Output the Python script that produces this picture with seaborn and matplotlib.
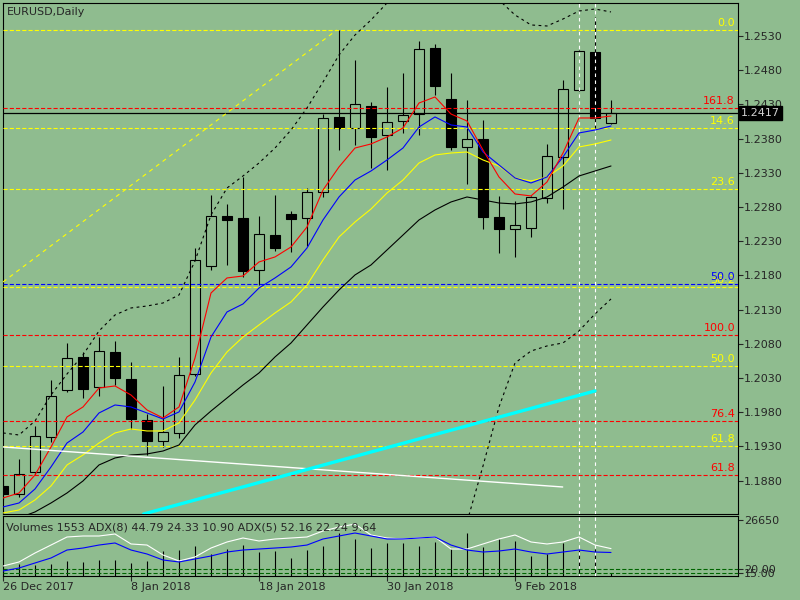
import matplotlib
matplotlib.use("Agg")
import matplotlib.pyplot as plt
import numpy as np
import seaborn as sns

# EURUSD daily candles, 26 Dec 2017 .. 19 Feb 2018
opens = [1.1872, 1.1860, 1.1893, 1.1944, 1.2012, 1.2061, 1.2017, 1.2068, 1.2029, 1.1969,
         1.1938, 1.1950, 1.2036, 1.2194, 1.2267, 1.2264, 1.2188, 1.2239, 1.2270, 1.2264,
         1.2302, 1.2412, 1.2395, 1.2428, 1.2385, 1.2406, 1.2416, 1.2512, 1.2438, 1.2368,
         1.2379, 1.2265, 1.2248, 1.2249, 1.2293, 1.2353, 1.2451, 1.2507, 1.2403]
highs = [1.1881, 1.1912, 1.1960, 1.2027, 1.2081, 1.2068, 1.2090, 1.2084, 1.2053, 1.1977,
         1.2018, 1.2061, 1.2220, 1.2298, 1.2284, 1.2324, 1.2267, 1.2298, 1.2274, 1.2308,
         1.2416, 1.2539, 1.2495, 1.2434, 1.2455, 1.2476, 1.2523, 1.2518, 1.2476, 1.2436,
         1.2407, 1.2296, 1.2289, 1.2296, 1.2372, 1.2466, 1.2509, 1.2558, 1.2436]
lows = [1.1852, 1.1856, 1.1888, 1.1936, 1.2010, 1.2001, 1.2004, 1.2020, 1.1955, 1.1917,
        1.1929, 1.1942, 1.2033, 1.2188, 1.2195, 1.2178, 1.2166, 1.2216, 1.2214, 1.2223,
        1.2295, 1.2363, 1.2371, 1.2337, 1.2334, 1.2388, 1.2385, 1.2444, 1.2363, 1.2314,
        1.2248, 1.2213, 1.2207, 1.2236, 1.2286, 1.2277, 1.2450, 1.2395, 1.2402]
closes = [1.1860, 1.1890, 1.1945, 1.2004, 1.2059, 1.2014, 1.2069, 1.2030, 1.1970, 1.1938,
          1.1951, 1.2034, 1.2203, 1.2267, 1.2261, 1.2186, 1.2240, 1.2220, 1.2262, 1.2302,
          1.2410, 1.2395, 1.2431, 1.2382, 1.2404, 1.2415, 1.2511, 1.2457, 1.2368, 1.2379,
          1.2265, 1.2248, 1.2254, 1.2295, 1.2355, 1.2453, 1.2508, 1.2410, 1.2417]
volumes = [4760, 5710, 5240, 5710, 7140, 6660, 7620, 7620, 6190, 7140,
           11900, 12380, 14280, 10470, 12850, 14760, 11420, 11900, 8570, 12380,
           14280, 20470, 17610, 13330, 15710, 15710, 14280, 16180, 12850, 20470,
           13800, 17610, 16660, 9520, 10470, 15710, 12380, 12850, 1553]

# moving averages as drawn on the chart
ma_red = [1.18545, 1.18618, 1.18882, 1.19291, 1.19730, 1.19876, 1.20153, 1.20183, 1.20051, 1.19832,
          1.19715, 1.19876, 1.20592, 1.21542, 1.21762, 1.21791, 1.21996, 1.22069, 1.22215, 1.22507,
          1.23048, 1.23385, 1.23662, 1.23721, 1.23823, 1.23955, 1.24320, 1.24408, 1.24159, 1.24057,
          1.23633, 1.23238, 1.22990, 1.22961, 1.23165, 1.23589, 1.24101, 1.24101, 1.24130]
ma_blue = [1.18414, 1.18472, 1.18677, 1.18999, 1.19349, 1.19510, 1.19788, 1.19905, 1.19876, 1.19788,
           1.19700, 1.19803, 1.20241, 1.20899, 1.21265, 1.21382, 1.21615, 1.21762, 1.21923, 1.22200,
           1.22610, 1.22946, 1.23194, 1.23326, 1.23487, 1.23662, 1.23969, 1.24116, 1.23999, 1.23969,
           1.23604, 1.23414, 1.23224, 1.23151, 1.23238, 1.23531, 1.23882, 1.23925, 1.23984]
ma_yellow = [1.18326, 1.18370, 1.18516, 1.18721, 1.19028, 1.19174, 1.19349, 1.19496, 1.19554, 1.19525,
             1.19525, 1.19642, 1.19978, 1.20373, 1.20680, 1.20899, 1.21075, 1.21250, 1.21411, 1.21659,
             1.22025, 1.22361, 1.22580, 1.22770, 1.23004, 1.23194, 1.23443, 1.23560, 1.23589, 1.23604,
             1.23487, 1.23399, 1.23224, 1.23180, 1.23238, 1.23399, 1.23677, 1.23721, 1.23779]
ma_black = [1.18209, 1.18253, 1.18341, 1.18472, 1.18618, 1.18794, 1.19028, 1.19130, 1.19174, 1.19189,
            1.19232, 1.19320, 1.19613, 1.19817, 1.20007, 1.20197, 1.20373, 1.20607, 1.20811, 1.21075,
            1.21338, 1.21586, 1.21806, 1.21952, 1.22171, 1.22390, 1.22610, 1.22756, 1.22873, 1.22946,
            1.22902, 1.22858, 1.22844, 1.22873, 1.22946, 1.23092, 1.23253, 1.23326, 1.23399]
band_upper = [1.19496, 1.19466, 1.19671, 1.20051, 1.20358, 1.20636, 1.20987, 1.21221, 1.21323, 1.21352,
              1.21396, 1.21513, 1.22010, 1.22683, 1.23077, 1.23253, 1.23443, 1.23662, 1.23925, 1.24247,
              1.24627, 1.25022, 1.25314, 1.25534, 1.25782, 1.25972, 1.26118, 1.26192, 1.26192, 1.26118,
              1.26001, 1.25826, 1.25607, 1.25461, 1.25446, 1.25548, 1.25665, 1.25694, 1.25651]
band_lower_start = 28
band_lower = [1.16970, 1.18194, 1.19013, 1.19876, 1.20519, 1.20694, 1.20768, 1.20812, 1.20987,
              1.21236, 1.21455]

# ADX lines in the lower window
adx_white = [19.0, 26.7, 43.8, 59.0, 74.3, 76.2, 76.2, 80.0, 61.0, 59.0,
             40.0, 28.6, 36.2, 53.3, 64.8, 72.4, 66.7, 70.5, 72.4, 74.3,
             85.7, 93.3, 99.0, 78.1, 72.4, 70.5, 72.4, 74.3, 51.4, 51.4,
             61.0, 70.5, 78.1, 64.8, 61.0, 64.8, 74.3, 59.0, 52.2]
adx_blue = [9.5, 15.2, 24.8, 34.3, 49.5, 53.3, 59.0, 62.9, 49.5, 41.9,
            30.5, 26.7, 32.4, 38.1, 45.7, 49.5, 51.4, 53.3, 55.2, 59.0,
            70.5, 76.2, 81.9, 76.2, 70.5, 70.5, 72.4, 74.3, 59.0, 49.5,
            45.7, 47.6, 51.4, 45.7, 41.9, 45.7, 49.5, 45.7, 44.8]
adx_levels = [13.3, 5.7]
adx_level_labels = ["20.00", "15.00"]

# fibonacci levels
fib_prices = [1.25387, 1.24247, 1.23955, 1.23063, 1.21630, 1.21674, 1.20928, 1.20475, 1.19671, 1.19306, 1.18882]
fib_labels = ["0.0", "161.8", "14.6", "23.6", "38.2", "50.0", "100.0", "50.0", "76.4", "61.8", "61.8"]
fib_colors = ["#FFFF00", "#FF0000", "#FFFF00", "#FFFF00", "#FFFF00", "#0000FF", "#FF0000", "#FFFF00",
              "#FF0000", "#FFFF00", "#FF0000"]

# trend lines (bar index, price)
trend_yellow = ([0.0, 20.86], [1.21703, 1.25387])
trend_white = ([0.0, 34.98], [1.19291, 1.18706])
trend_cyan = ([8.79, 37.0], [1.18311, 1.20110])
vlines_idx = [36, 37]

last_price = 1.2417
price_ticks = [1.2530, 1.2480, 1.2430, 1.2380, 1.2330, 1.2280, 1.2230, 1.2180,
               1.2130, 1.2080, 1.2030, 1.1980, 1.1930, 1.1880]
date_idx = [0, 8, 16, 24, 32]
date_labels = ["26 Dec 2017", "8 Jan 2018", "18 Jan 2018", "30 Jan 2018", "9 Feb 2018"]

bg = "#8FBC8F"
sns.set_style("white", {"axes.facecolor": bg, "figure.facecolor": bg, "axes.edgecolor": "black"})
plt.rcParams["font.family"] = ["DejaVu Sans"]
plt.rcParams["lines.scale_dashes"] = False
plt.rcParams["font.size"] = 8

fig = plt.figure(figsize=(8, 6), dpi=100)
ax = fig.add_axes([3 / 800, 1 - 514 / 600, 735 / 800, 511 / 600])
sub = fig.add_axes([3 / 800, 1 - 576 / 600, 735 / 800, 60 / 600])
adx_ax = fig.add_axes([3 / 800, 1 - 576 / 600, 735 / 800, 60 / 600], frameon=False)

xmax = 735 / 16
idx = np.arange(len(closes))
o = np.array(opens)
c = np.array(closes)
up = c >= o

# candles
ax.vlines(idx, lows, highs, color="black", lw=0.8, zorder=2)
ax.bar(idx, np.abs(c - o), bottom=np.minimum(o, c), width=0.6,
       color=np.where(up, bg, "black"), edgecolor="black", linewidth=0.8, zorder=3)

dash = (0, (3, 1.5))
for p, col in zip(fib_prices, fib_colors):
    ax.axhline(p, color=col, lw=0.8, ls=dash, zorder=4)
for p, lbl, col in zip(fib_prices, fib_labels, fib_colors):
    ax.annotate(lbl, xy=(0.996, p), xycoords=("axes fraction", "data"), xytext=(0, 1.5),
                textcoords="offset points", ha="right", va="bottom", color=col, fontsize=8)

ax.axhline(last_price, color="black", lw=0.9, zorder=4)

def line(a, x, y, color, lw=0.8, ls="-"):
    sns.lineplot(x=list(x), y=list(y), ax=a, color=color, lw=lw, linestyle=ls,
                 errorbar=None, sort=False, zorder=6)

line(ax, idx, ma_black, "black")
line(ax, idx, ma_yellow, "#FFFF00")
line(ax, idx, ma_blue, "#0000FF")
line(ax, idx, ma_red, "#FF0000")
line(ax, idx, band_upper, "black", ls=(0, (2, 2.5)))
line(ax, idx[band_lower_start:], band_lower, "black", ls=(0, (2, 2.5)))
line(ax, trend_yellow[0], trend_yellow[1], "#FFFF00", ls=(0, (3, 3)))
line(ax, trend_white[0], trend_white[1], "white", lw=1.0)
line(ax, trend_cyan[0], trend_cyan[1], "#00FFFF", lw=2.4)

for v in vlines_idx:
    ax.axvline(v, color="white", lw=0.8, ls=(0, (2.5, 2.5)), zorder=5)
    sub.axvline(v, color="white", lw=0.8, ls=(0, (2.5, 2.5)), zorder=5)

ax.set_xlim(0, xmax)
ax.set_ylim(1.18311, 1.25782)
ax.set_xticks([])
ax.yaxis.tick_right()
ax.set_yticks(price_ticks)
ax.set_yticklabels([f"{t:.4f}" for t in price_ticks])
ax.tick_params(axis="y", direction="out", length=3.5, width=0.8, pad=1, labelsize=8, right=True)
ax.annotate(f"{last_price:.4f}", xy=(1.0, last_price), xycoords=("axes fraction", "data"),
            xytext=(2, 0), textcoords="offset points", ha="left", va="center", color="#D0D0D0",
            fontsize=8, bbox=dict(boxstyle="square,pad=0.2", fc="black", ec="black"),
            annotation_clip=False)
for s in ax.spines.values():
    s.set_linewidth(0.8)

# volumes
sub.vlines(idx, 0, volumes, color="black", lw=0.8, zorder=2)
sub.set_xlim(0, xmax)
sub.set_ylim(0, 28560)
sub.yaxis.tick_right()
sub.set_yticks([26650])
sub.set_yticklabels(["26650"])
sub.set_xticks(date_idx)
sub.set_xticklabels(date_labels, ha="left")
sub.tick_params(axis="both", direction="out", length=3.5, width=0.8, pad=1, labelsize=8,
                right=True, bottom=True)
for s in sub.spines.values():
    s.set_linewidth(0.8)

# ADX overlay
adx_ax.patch.set_alpha(0)
for lvl in adx_levels:
    adx_ax.axhline(lvl, color="#006400", lw=0.8, ls=(0, (3, 1.5)))
line(adx_ax, idx, adx_white, "white")
line(adx_ax, idx, adx_blue, "#0000FF")
adx_ax.set_xlim(0, xmax)
adx_ax.set_ylim(0, 114.3)
adx_ax.set_xticks([])
adx_ax.yaxis.tick_right()
adx_ax.set_yticks(adx_levels)
adx_ax.set_yticklabels(adx_level_labels)
adx_ax.tick_params(axis="y", direction="out", length=3.5, width=0.8, pad=1, labelsize=8, right=True)

fig.text(7 / 800, 1 - 12 / 600, "EURUSD,Daily", va="center", ha="left", fontsize=8)
fig.text(6 / 800, 1 - 527 / 600, "Volumes 1553 ADX(8) 44.79 24.33 10.90 ADX(5) 52.16 22.24 9.64",
         va="center", ha="left", fontsize=8)

fig.savefig("out.png", dpi=100, facecolor=bg)
